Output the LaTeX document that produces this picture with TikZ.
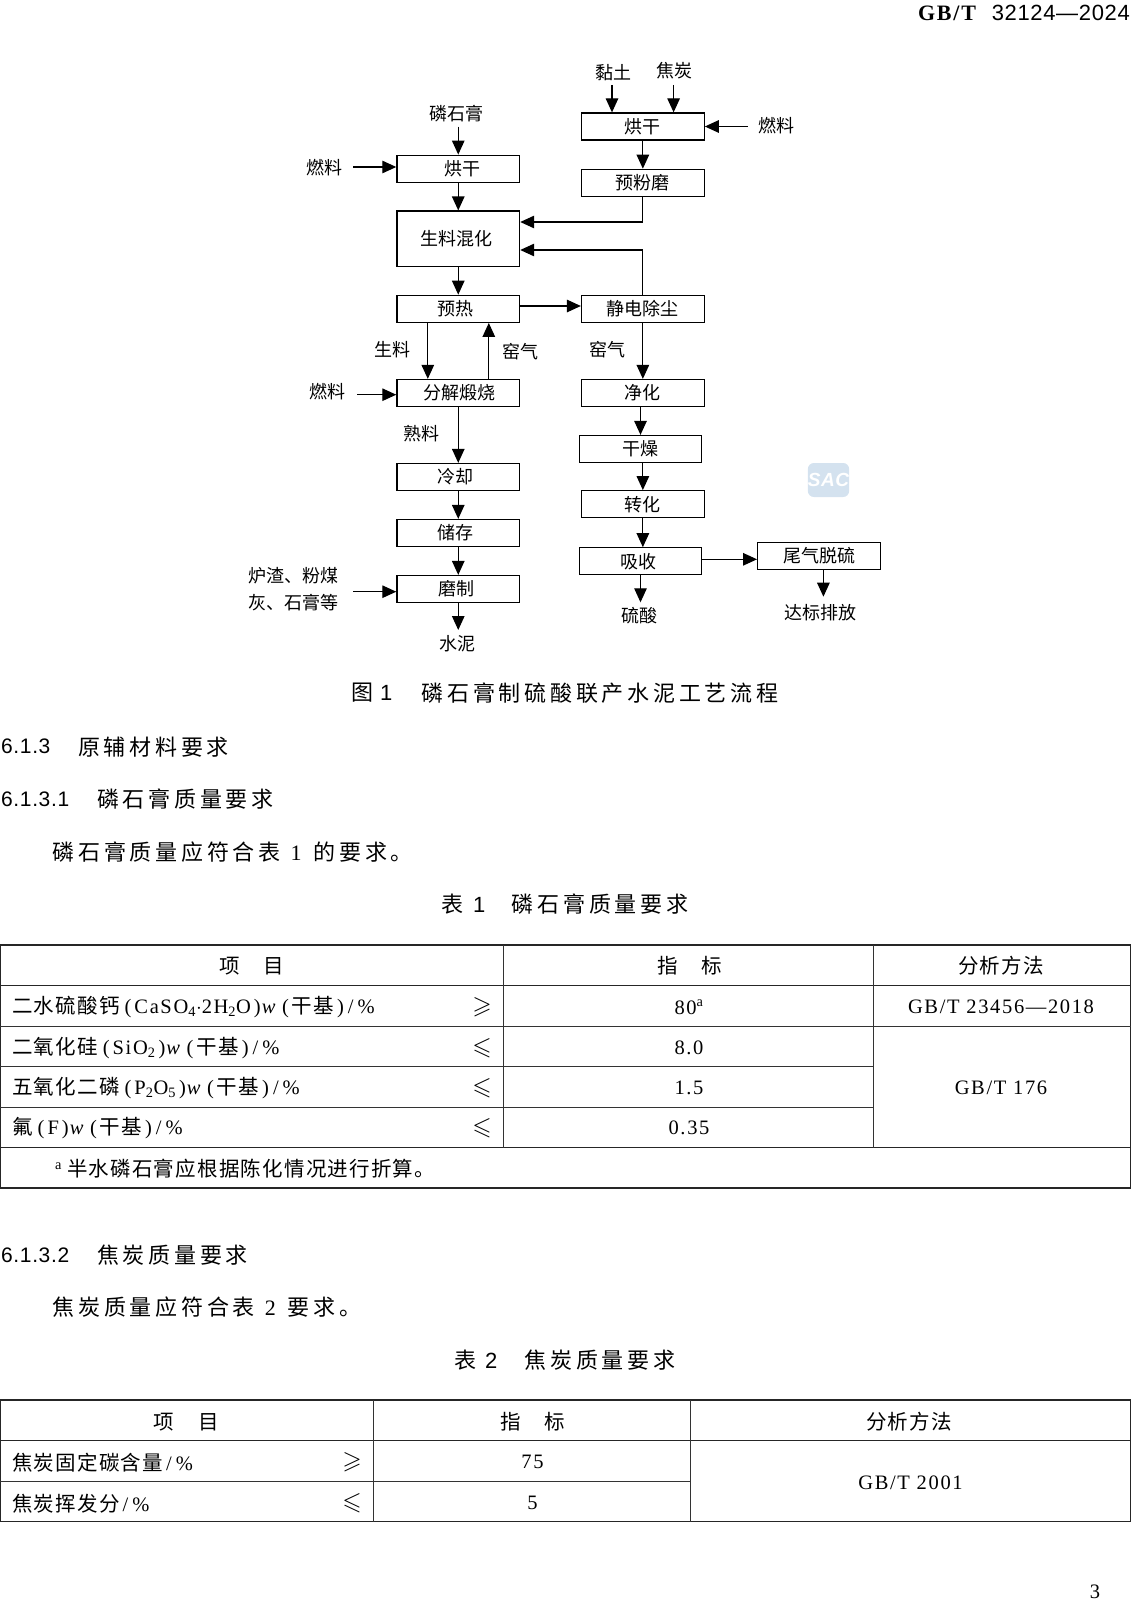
\documentclass[tikz,border=0pt]{standalone}
\usepackage{amssymb}
\usepackage{fontspec}
\setmainfont[LetterSpace=8]{Liberation Serif}
\setsansfont[LetterSpace=3]{Liberation Sans}
\newfontfamily\zhflow{Noto Sans CJK SC}
\newfontfamily\zhtab[LetterSpace=6]{Noto Sans CJK SC}
\newfontfamily\zhwide[LetterSpace=17]{Noto Sans CJK SC}
\usetikzlibrary{arrows.meta}
\definecolor{sacblue}{RGB}{212,226,239}
\newcommand{\opn}{\hspace{5pt}(\hspace{3pt}}
\newcommand{\cls}{\hspace{3pt})\hspace{1pt}}
\newcommand{\pct}{\hspace{3pt}/\hspace{4pt}\%}
\tikzset{
	flowbox/.style={draw, line width=1.25pt, minimum width=122.7pt, minimum height=27pt, inner sep=0pt, font=\fontsize{18}{18}\selectfont\zhflow},
	flowtext/.style={inner sep=0pt, font=\fontsize{18}{18}\selectfont\zhflow},
	flow/.style={line width=1.25pt, -{Triangle[length=14pt,width=12.5pt]}},
	headtext/.style={anchor=west, inner sep=0pt, font=\fontsize{21}{22}\selectfont\sffamily},
	bodytext/.style={anchor=west, inner sep=0pt, font=\fontsize{22}{22}\selectfont},
	celltext/.style={inner sep=0pt, font=\fontsize{20.5}{20}\selectfont},
	cellleft/.style={celltext, anchor=west},
	signtext/.style={inner sep=0pt, font=\fontsize{25}{25}\selectfont},
	thickrule/.style={line width=1.3pt, color=black!85},
	thinrule/.style={line width=0.6pt, color=black!80},
}

\begin{document}
\begin{tikzpicture}[x=1pt, y=-1pt]
			%%%%% PAGE %%%%%
			\useasboundingbox (0, 0) rectangle (1131, 1600);
			
			\node[anchor=east, inner sep=0pt, font=\fontsize{22}{22}\selectfont] (pagehead) at (1130, 12.5) {\textbf{GB/T}\hspace{14pt}{\sffamily 32124—2024}};
			\node[celltext] (pageno) at (1095, 1592) {3};
			
			%%%%% FLOW, LEFT COLUMN %%%%%
			\node[flowbox] (dryleft) at (458.25, 168.7) {\hspace*{8pt}烘干};
			\node[flowbox, minimum height=55.5pt] (rawmix) at (458.25, 238.8) {生料混化\hspace*{4pt}};
			\node[flowbox] (preheat) at (458.25, 308.8) {预热\hspace*{6pt}};
			\node[flowbox] (calcine) at (458.25, 393) {\hspace*{2pt}分解煅烧};
			\node[flowbox] (cooling) at (458.25, 477) {冷却\hspace*{6pt}};
			\node[flowbox] (storage) at (458.25, 533) {储存\hspace*{6pt}};
			\node[flowbox] (grinding) at (458.25, 589) {磨制\hspace*{4pt}};
			
			%%%%% FLOW, RIGHT COLUMN %%%%%
			\node[flowbox] (dryright) at (642.85, 126.5) {烘干};
			\node[flowbox] (pregrind) at (642.85, 182.8) {预粉磨};
			\node[flowbox] (dustfilter) at (642.85, 308.8) {静电除尘};
			\node[flowbox] (cleaning) at (642.85, 393) {净化};
			\node[flowbox] (drying) at (640.5, 449) {干燥};
			\node[flowbox] (convert) at (642.85, 504.2) {转化};
			\node[flowbox] (absorb) at (640.5, 561.3) {吸收\hspace*{4pt}};
			\node[flowbox] (tailgas) at (819, 555.7) {尾气脱硫};
			
			%%%%% FLOW LABELS %%%%%
			\node[flowtext] (gypsum) at (456.4, 114) {磷石膏};
			\node[flowtext] (clay) at (613, 72.7) {黏土};
			\node[flowtext] (coke) at (674, 70.7) {焦炭};
			\node[flowtext] (fuelright) at (776, 126) {燃料};
			\node[flowtext] (fuelleft) at (324, 167.3) {燃料};
			\node[flowtext] (fuelcalc) at (327, 391.7) {燃料};
			\node[flowtext] (rawlabel) at (392.5, 349.3) {生料};
			\node[flowtext] (kilnleft) at (520.4, 351.7) {窑气};
			\node[flowtext] (kilnright) at (607.5, 349.3) {窑气};
			\node[flowtext] (clinker) at (421.5, 434) {熟料};
			\node[flowtext] (slagone) at (293, 576) {炉渣、粉煤};
			\node[flowtext] (slagtwo) at (293, 602.7) {灰、石膏等};
			\node[flowtext] (cement) at (457, 644) {水泥};
			\node[flowtext] (acid) at (639, 616) {硫酸};
			\node[flowtext] (discharge) at (820.5, 612.3) {达标排放};
			
			%%%%% FREE ENDS %%%%%
			\coordinate (gypsumout) at (458.25, 126.7);
			\coordinate (clayout) at (612, 85);
			\coordinate (cokeout) at (673.6, 85);
			\coordinate (fuelrightout) at (747.7, 126.5);
			\coordinate (fuelleftout) at (353.3, 167);
			\coordinate (fuelcalcout) at (357, 394.7);
			\coordinate (slagout) at (353.3, 591.7);
			\coordinate (rawpipe) at (427.8, 350);
			\coordinate (kilnpipe) at (488.8, 350);
			\coordinate (preheatout) at (519.6, 306);
			\coordinate (absorbout) at (701.8, 559.3);
			\coordinate (cementin) at (458.25, 630);
			\coordinate (acidin) at (640.5, 602.3);
			\coordinate (dischargein) at (823.4, 596.7);
			\coordinate (pregrindturn) at (642.85, 222);
			\coordinate (filterturn) at (642.85, 250);
			
			%%%%% CONNECTORS %%%%%
			\draw[flow] (gypsumout) -- (dryleft);
			\draw[flow] (fuelleftout) -- (fuelleftout -| dryleft.west);
			\draw[flow] (dryleft) -- (rawmix);
			\draw[flow] (rawmix) -- (preheat);
			\draw[flow] (preheatout) -- (preheatout -| dustfilter.west);
			\draw[flow] (rawpipe |- preheat.south) -- (rawpipe |- calcine.north);
			\draw[flow] (kilnpipe |- calcine.north) -- (kilnpipe |- preheat.south);
			\draw[flow] (fuelcalcout) -- (fuelcalcout -| calcine.west);
			\draw[flow] (calcine) -- (cooling);
			\draw[flow] (cooling) -- (storage);
			\draw[flow] (storage) -- (grinding);
			\draw[flow] (slagout) -- (slagout -| grinding.west);
			\draw[flow] (grinding) -- (cementin);
			
			\draw[flow] (clayout) -- (clayout |- dryright.north);
			\draw[flow] (cokeout) -- (cokeout |- dryright.north);
			\draw[flow] (fuelrightout) -- (dryright);
			\draw[flow] (dryright) -- (pregrind);
			\draw[flow] (pregrind) -- (pregrindturn) -- (pregrindturn -| rawmix.east);
			\draw[flow] (dustfilter) -- (filterturn) -- (filterturn -| rawmix.east);
			\draw[flow] (dustfilter) -- (cleaning);
			\draw[flow] (drying |- cleaning.south) -- (drying);
			\draw[flow] (convert |- drying.south) -- (convert);
			\draw[flow] (convert) -- (convert |- absorb.north);
			\draw[flow] (absorbout) -- (absorbout -| tailgas.west);
			\draw[flow] (absorb) -- (acidin);
			\draw[flow] (dischargein |- tailgas.south) -- (dischargein);
			
			\node[fill=sacblue, rounded corners=6pt, minimum width=37pt, minimum height=34pt, inner sep=0pt, text=white, font=\fontsize{19}{19}\selectfont\sffamily\bfseries\itshape] (sacmark) at (828.5, 480) {SAC};
			
			%%%%% CAPTION AND HEADINGS %%%%%
			\node[bodytext] (figno) at (351, 692.7) {{\zhwide 图}\hspace{7pt}{\sffamily 1}};
			\node[bodytext] (figtitle) at (421.5, 692.7) {\zhwide 磷石膏制硫酸联产水泥工艺流程};
			
			\node[headtext] (secone) at (1, 746.7) {6.1.3};
			\node[bodytext] (seconetitle) at (78, 746.7) {\zhwide 原辅材料要求};
			\node[headtext] (sectwo) at (1, 799) {6.1.3.1};
			\node[bodytext] (sectwotitle) at (97, 799) {\zhwide 磷石膏质量要求};
			\node[bodytext] (parone) at (52.5, 852) {{\zhwide 磷石膏质量应符合表}\hspace{10pt}1\hspace{12pt}{\zhwide 的要求。}};
			\node[bodytext] (tabno) at (441, 904.3) {{\zhwide 表}\hspace{10pt}{\sffamily 1}};
			\node[bodytext] (tabtitle) at (511.7, 904.3) {\zhwide 磷石膏质量要求};
			
			\node[headtext] (secthree) at (1, 1255) {6.1.3.2};
			\node[bodytext] (secthreetitle) at (97, 1255) {\zhwide 焦炭质量要求};
			\node[bodytext] (partwo) at (52.5, 1307) {{\zhwide 焦炭质量应符合表}\hspace{10pt}2\hspace{12pt}{\zhwide 要求。}};
			\node[bodytext] (tabnotwo) at (454, 1360) {{\zhwide 表}\hspace{9pt}{\sffamily 2}};
			\node[bodytext] (tabtitletwo) at (524.5, 1360) {\zhwide 焦炭质量要求};
			
			%%%%% TABLE 1 %%%%%
			\draw[thickrule] (0.6, 945) rectangle (1130.4, 1188);
			\draw[thickrule] (0, 985.7) -- (1131, 985.7);
			\draw[thickrule] (0, 1147.7) -- (1131, 1147.7);
			\draw[thinrule] (0, 1026.3) -- (1131, 1026.3);
			\draw[thinrule] (0, 1066.7) -- (873.7, 1066.7);
			\draw[thinrule] (0, 1107.3) -- (873.7, 1107.3);
			\draw[thinrule] (503.6, 945) -- (503.6, 1147.7);
			\draw[thinrule] (873.7, 945) -- (873.7, 1147.7);
			
			\node[celltext] (taboneitem) at (252, 966) {\zhtab 项\hspace{24pt}目};
			\node[celltext] (taboneindex) at (690, 966) {\zhtab 指\hspace{24pt}标};
			\node[celltext] (tabonemethod) at (1001, 966) {\zhtab 分析方法};
			
			\node[cellleft] (rowone) at (12, 1007) {{\zhtab 二水硫酸钙}\opn CaSO\textsubscript{4}$\cdot$2H\textsubscript{2}O\cls\textit{w}\opn{\zhtab 干基}\cls\pct};
			\node[signtext] (rowonesign) at (482, 1007) {$\geqslant$};
			\node[celltext] (rowoneval) at (689, 1007) {80\textsuperscript{a}};
			\node[celltext] (rowonemethod) at (1001, 1007) {GB/T 23456—2018};
			
			\node[cellleft] (rowtwo) at (12, 1048) {{\zhtab 二氧化硅}\opn SiO\textsubscript{2}\cls\textit{w}\opn{\zhtab 干基}\cls\pct};
			\node[signtext] (rowtwosign) at (482, 1048) {$\leqslant$};
			\node[celltext] (rowtwoval) at (689, 1048) {8.0};
			
			\node[cellleft] (rowthree) at (12, 1088) {{\zhtab 五氧化二磷}\opn P\textsubscript{2}O\textsubscript{5}\cls\textit{w}\opn{\zhtab 干基}\cls\pct};
			\node[signtext] (rowthreesign) at (482, 1088) {$\leqslant$};
			\node[celltext] (rowthreeval) at (689, 1088) {1.5};
			\node[celltext] (rowthreemethod) at (1001, 1088) {GB/T 176};
			
			\node[cellleft] (rowfour) at (12, 1128) {{\zhtab 氟}\opn F\cls\textit{w}\opn{\zhtab 干基}\cls\pct};
			\node[signtext] (rowfoursign) at (482, 1128) {$\leqslant$};
			\node[celltext] (rowfourval) at (689, 1128) {0.35};
			
			\node[cellleft] (tabnote) at (55, 1169) {\textsuperscript{a}\hspace{5pt}{\zhtab 半水磷石膏应根据陈化情况进行折算。}};
			
			%%%%% TABLE 2 %%%%%
			\draw[thickrule] (0.6, 1400) rectangle (1130.4, 1521.7);
			\draw[thickrule] (0, 1440.7) -- (1131, 1440.7);
			\draw[thinrule] (0, 1481) -- (690.5, 1481);
			\draw[thinrule] (373.7, 1400) -- (373.7, 1521.7);
			\draw[thinrule] (690.5, 1400) -- (690.5, 1521.7);
			
			\node[celltext] (tabtwoitem) at (186.4, 1421.7) {\zhtab 项\hspace{24pt}目};
			\node[celltext] (tabtwoindex) at (532.5, 1421.7) {\zhtab 指\hspace{24pt}标};
			\node[celltext] (tabtwomethod) at (909, 1421.7) {\zhtab 分析方法};
			
			\node[cellleft] (cokeone) at (12, 1462.3) {{\zhtab 焦炭固定碳含量}\pct};
			\node[signtext] (cokeonesign) at (352, 1462.3) {$\geqslant$};
			\node[celltext] (cokeoneval) at (532.5, 1462.3) {75};
			
			\node[cellleft] (coketwo) at (12, 1503.3) {{\zhtab 焦炭挥发分}\pct};
			\node[signtext] (coketwosign) at (352, 1503.3) {$\leqslant$};
			\node[celltext] (coketwoval) at (532.5, 1503.3) {5};
			\node[celltext] (cokemethod) at (910.5, 1482.3) {GB/T 2001};
			
		\end{tikzpicture}
\end{document}
